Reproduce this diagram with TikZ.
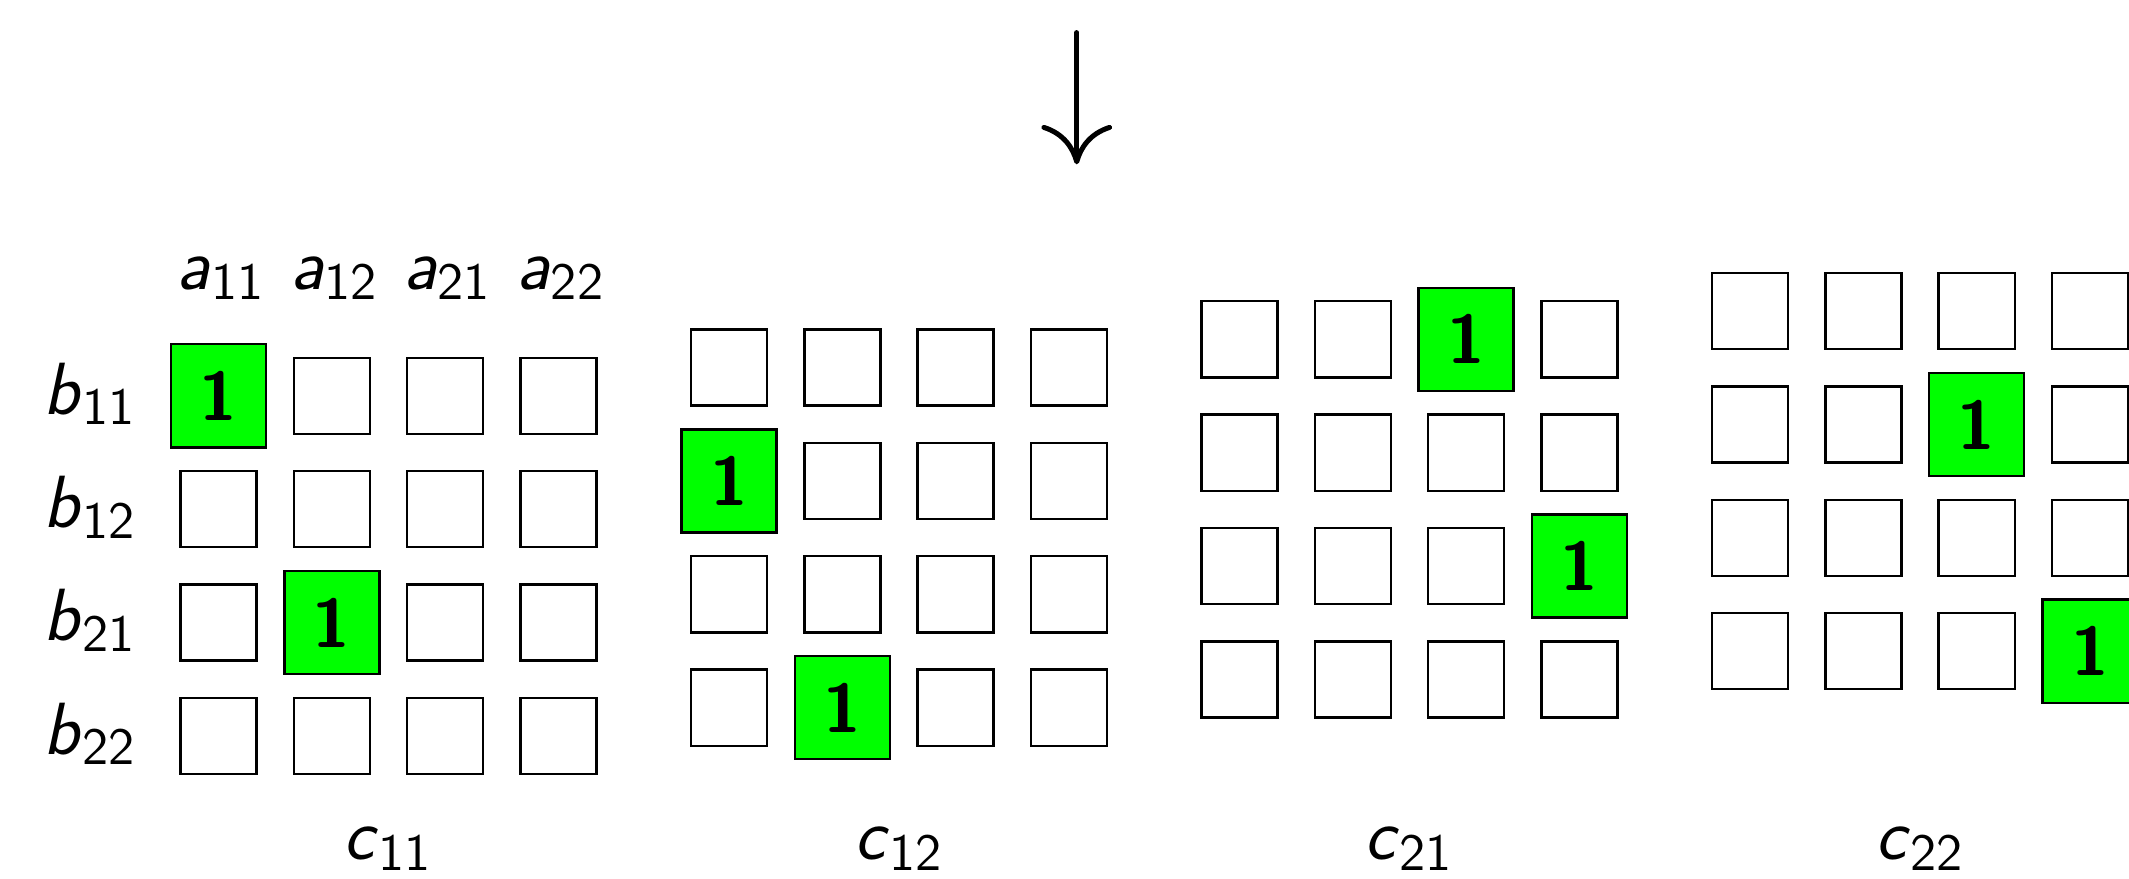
\documentclass[tikz,border=0pt]{standalone}
\usepackage{tikz}
\usetikzlibrary{arrows.meta,positioning}
\definecolor{hitgreen}{HTML}{00FF00}
\tikzset{
  cell/.style    = {draw,line width=0.5pt,minimum size=5.6mm,inner sep=0pt},
  hit/.style     = {cell,fill=hitgreen,minimum width=7mm,minimum height=7.6mm,
                     font=\Large\sffamily\bfseries},
  idx/.style     = {font=\fontsize{15.5}{18}\selectfont,inner sep=1pt},
  flowarr/.style = {-{Computer Modern Rightarrow[length=2.9mm,width=5.2mm]},
                     line width=1.05pt,line cap=round},
}
\newcommand{\entry}[2]{\textsf{\textit{#1}}$_{\mathsf{#2}}$}

\begin{document}
\begin{tikzpicture}
  \useasboundingbox (0,0) rectangle (15.68,-6.47);
  \def\dx{0.834}
  \def\dy{0.835}
  % arrow on top
  \coordinate (arrtop) at (7.93,-0.24);
  \coordinate (arrtip) at (7.93,-1.21);
  \draw[flowarr] (arrtop) -- (arrtip);
  % row and column indices of the first grid
  \foreach \j [count=\c from 0] in {11,12,21,22}{
    \node[idx] (a\j) at (1.63+\c*\dx,-2.05) {\entry{a}{\j}};
    \node[idx,anchor=east] (b\j) at (1.05,-2.90-\c*\dy) {\entry{b}{\j}};
  }
  % one grid per entry c_ij
  \foreach \lab [count=\k from 0] in {11,12,21,22}{
    \pgfmathsetmacro{\ox}{1.61+3.76*\k}
    \pgfmathsetmacro{\oy}{-2.915+0.208*\k}
    \pgfmathtruncatemacro{\ra}{mod(\k,2)}
    \pgfmathtruncatemacro{\ca}{2*int(\k/2)}
    \foreach \r in {0,...,3}{
      \foreach \c in {0,...,3}{
        \pgfmathtruncatemacro{\ishit}{(\r==\ra && \c==\ca) || (\r==\ra+2 && \c==\ca+1)}
        \ifnum\ishit=1
          \node[hit] (m\lab-\r\c) at (\ox+\c*\dx,\oy-\r*\dy) {1};
        \else
          \node[cell] (m\lab-\r\c) at (\ox+\c*\dx,\oy-\r*\dy) {};
        \fi
      }
    }
    \node[idx] (c\lab) at (\ox+1.5*\dx,-6.25) {\entry{c}{\lab}};
  }
\end{tikzpicture}
\end{document}
